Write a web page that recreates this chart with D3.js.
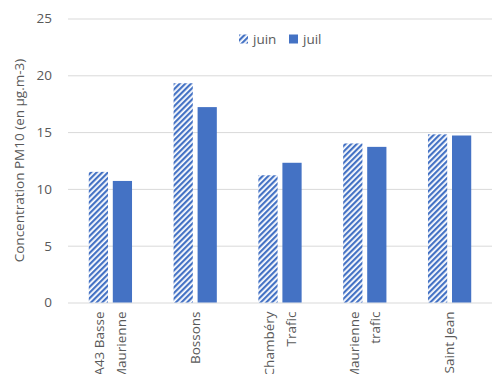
<!DOCTYPE html>
<html>
<head>
<meta charset="utf-8">
<script src="https://cdn.jsdelivr.net/npm/d3@7"></script>
<style>
  body { margin: 0; background: #fff; }
  text { font-family: "Open Sans", "Liberation Sans", sans-serif; fill: #595959; }
</style>
</head>
<body>
<div id="chart"></div>
<script>
// données
const categories = [["A43 Basse", "Maurienne"], ["Bossons"], ["Chambéry", "Trafic"], ["Maurienne", "trafic"], ["Saint Jean"]];
const juin = [11.5, 19.3, 11.2, 14.0, 14.8];
const juil = [10.7, 17.2, 12.3, 13.7, 14.7];
const series = ["juin", "juil"];
const yTicks = [0, 5, 10, 15, 20, 25];

const W = 492, H = 374;
const margin = { top: 18.5, right: 0, bottom: 71.5, left: 68 };
const width = W - margin.left - margin.right;
const height = H - margin.top - margin.bottom;

const svg = d3.select("#chart").append("svg")
    .attr("width", W).attr("height", H);

// motif hachuré pour juin
const defs = svg.append("defs");
const pat = defs.append("pattern")
    .attr("id", "hatch")
    .attr("patternUnits", "userSpaceOnUse")
    .attr("width", 4).attr("height", 4)
    .attr("patternTransform", "rotate(45)");
pat.append("rect").attr("width", 4).attr("height", 4).attr("fill", "#fff");
pat.append("rect").attr("width", 2.2).attr("height", 4).attr("fill", "#4472C4");

const g = svg.append("g").attr("transform", `translate(${margin.left},${margin.top})`);

const labels = categories.map(d => d.join(" "));
const x = d3.scaleBand().domain(labels).range([0, width]).paddingInner(0).paddingOuter(0);
const x1 = d3.scaleBand().domain(series).range([x.bandwidth() * 0.245, x.bandwidth() * 0.755]).paddingInner(0.2);
const y = d3.scaleLinear().domain([0, 25]).range([height, 0]);

// grille
g.append("g")
    .selectAll("line")
    .data(yTicks)
    .join("line")
    .attr("x1", 0).attr("x2", width)
    .attr("y1", d => y(d) + 0.5).attr("y2", d => y(d) + 0.5)
    .attr("stroke", "#d9d9d9").attr("stroke-width", 1);

// axe Y
const yAxis = g.append("g")
    .call(d3.axisLeft(y).tickValues(yTicks).tickSize(0).tickPadding(16));
yAxis.select(".domain").remove();
yAxis.selectAll("text").style("font-size", "13.5px").attr("fill", "#595959");

// barres
const data = labels.map((c, i) => ({ cat: c, values: [{ s: "juin", v: juin[i] }, { s: "juil", v: juil[i] }] }));
g.append("g")
    .selectAll("g")
    .data(data)
    .join("g")
    .attr("transform", d => `translate(${x(d.cat)},0)`)
    .selectAll("rect")
    .data(d => d.values)
    .join("rect")
    .attr("x", d => x1(d.s))
    .attr("y", d => y(d.v))
    .attr("width", x1.bandwidth())
    .attr("height", d => height - y(d.v))
    .attr("fill", d => d.s === "juin" ? "url(#hatch)" : "#4472C4");

// étiquettes de l'axe X (verticales, sur deux lignes)
const lineGap = 21.7;
categories.forEach((lines, i) => {
    const cx = x(labels[i]) + x.bandwidth() / 2;
    lines.forEach((t, j) => {
        const off = (j - (lines.length - 1) / 2) * lineGap;
        g.append("text")
            .attr("transform", `translate(${cx + off},${height + 9}) rotate(-90)`)
            .attr("text-anchor", "end")
            .attr("dy", "0.35em")
            .style("font-size", "13.5px")
            .text(t);
    });
});

// titre de l'axe Y
svg.append("text")
    .attr("transform", `translate(19,${margin.top + height / 2}) rotate(-90)`)
    .attr("text-anchor", "middle")
    .attr("dy", "0.35em")
    .style("font-size", "13.5px")
    .text("Concentration PM10 (en µg.m-3)");

// légende
const legend = svg.append("g").attr("transform", "translate(239,39)");
const items = [{ s: "juin", x: 0 }, { s: "juil", x: 50 }];
items.forEach(it => {
    legend.append("rect")
        .attr("x", it.x).attr("y", -4.5)
        .attr("width", 9).attr("height", 9)
        .attr("fill", it.s === "juin" ? "url(#hatch)" : "#4472C4");
    legend.append("text")
        .attr("x", it.x + 14).attr("y", 0)
        .attr("dy", "0.35em")
        .style("font-size", "13.5px")
        .text(it.s);
});
</script>
</body>
</html>
